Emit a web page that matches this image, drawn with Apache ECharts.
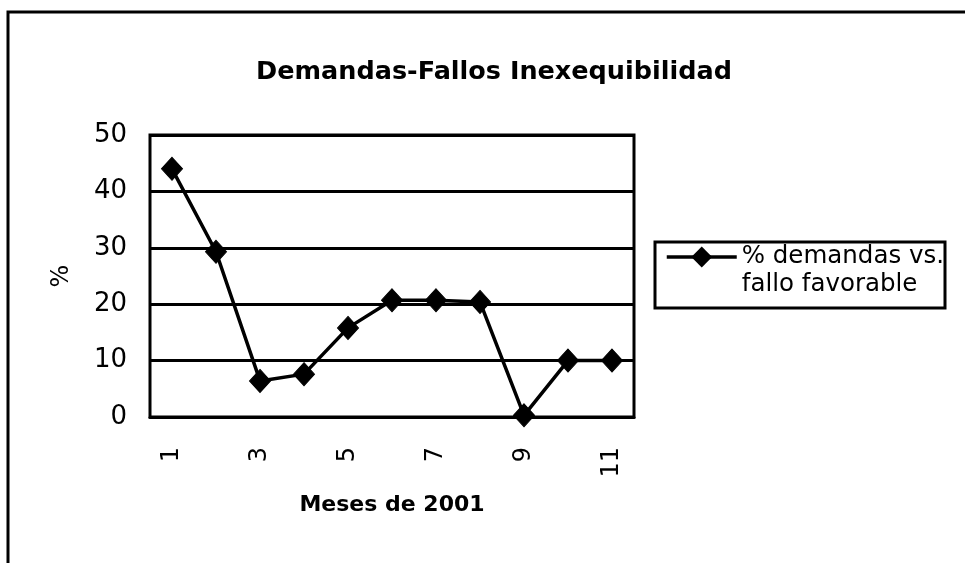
<!DOCTYPE html>
<html>
<head>
<meta charset="utf-8">
<script src="https://cdn.jsdelivr.net/npm/echarts@6/dist/echarts.min.js"></script>
<style>html,body{margin:0;padding:0;background:#fff}#c{width:965px;height:563px}</style>
</head>
<body>
<div id="c"></div>
<script>
var categories = ['1','2','3','4','5','6','7','8','9','10','11'];
var values = [44, 29.3, 6.4, 7.6, 15.8, 20.7, 20.7, 20.4, 0.3, 10, 10];
var seriesName = '% demandas vs.\nfallo favorable';
var titleText = 'Demandas-Fallos Inexequibilidad';
var xName = 'Meses de 2001';
var yName = '%';

var FONT = 'DejaVu Sans';
var chart = echarts.init(document.getElementById('c'), null, {renderer: 'canvas'});
chart.setOption({
  backgroundColor: '#ffffff',
  animation: false,
  title: {
    text: titleText,
    left: 489, textAlign: 'center', top: 54,
    textStyle: {fontFamily: FONT, fontWeight: 'bold', fontSize: 25.5, color: '#000'}
  },
  graphic: [
    {type: 'rect', shape: {x: 8, y: 12, width: 1000, height: 600}, style: {fill: 'none', stroke: '#000', lineWidth: 3}, silent: true},
    {type: 'rect', shape: {x: 655, y: 242, width: 290, height: 66}, style: {fill: 'none', stroke: '#000', lineWidth: 3}, silent: true}
  ],
  legend: {
    left: 665, top: 215, padding: 0,
    itemWidth: 70, itemHeight: 26, itemGap: 0,
    data: [{name: seriesName}],
    formatter: function (n) { return '\n' + n; },
    lineStyle: {width: 3.5, color: '#000'},
    itemStyle: {color: '#000'},
    textStyle: {fontFamily: FONT, fontSize: 24.5, color: '#000', lineHeight: 28}
  },
  grid: {left: 150, top: 135, width: 484, height: 282, show: true, borderColor: '#000', borderWidth: 3, backgroundColor: 'transparent'},
  xAxis: {
    type: 'category', data: categories, boundaryGap: true,
    name: xName, nameLocation: 'middle', nameGap: 77,
    nameTextStyle: {fontFamily: FONT, fontWeight: 'bold', fontSize: 22, color: '#000'},
    axisLine: {lineStyle: {color: '#000', width: 3}},
    axisTick: {show: false},
    axisLabel: {interval: 1, rotate: 90, margin: 30, fontFamily: FONT, fontSize: 24, color: '#000'}
  },
  yAxis: {
    type: 'value', min: 0, max: 50, interval: 10,
    name: yName, nameLocation: 'middle', nameGap: 76, nameRotate: 90,
    nameTextStyle: {fontFamily: FONT, fontSize: 24, color: '#000'},
    axisLine: {show: false}, axisTick: {show: false},
    axisLabel: {margin: 23, fontFamily: FONT, fontSize: 26, color: '#000'},
    splitLine: {lineStyle: {color: '#000', width: 3}}
  },
  series: [{
    name: seriesName, type: 'line', data: values,
    symbol: 'diamond', symbolSize: [21, 23],
    lineStyle: {color: '#000', width: 3.5},
    itemStyle: {color: '#000', borderColor: '#000'}
  }]
});
</script>
</body>
</html>
